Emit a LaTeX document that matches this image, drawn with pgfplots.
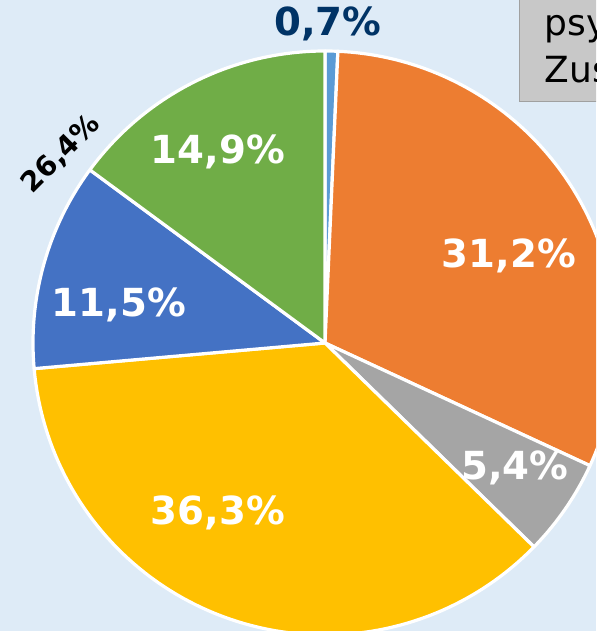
\documentclass[border=0pt]{standalone}
\usepackage{fontspec}
\setmainfont{DejaVu Sans}
\usepackage{pgfplots}
\pgfplotsset{compat=1.18}
\definecolor{bgblue}{HTML}{DEEBF7}
\definecolor{sLight}{HTML}{5B9BD5}
\definecolor{sOrange}{HTML}{ED7D31}
\definecolor{sGray}{HTML}{A5A5A5}
\definecolor{sYellow}{HTML}{FFC000}
\definecolor{sBlue}{HTML}{4472C4}
\definecolor{sGreen}{HTML}{70AD47}
\definecolor{navy}{HTML}{003366}
\definecolor{boxgray}{HTML}{C8C8C8}
\definecolor{boxedge}{HTML}{A0A0A0}
\tikzset{lbl/.style={font=\bfseries\fontsize{29}{33}\selectfont, text=white}}

\begin{document}
\begin{tikzpicture}
% shares in percent, clockwise from 12 o'clock
\pgfmathsetmacro\aA{90}
\pgfmathsetmacro\aB{\aA-3.6*0.7}
\pgfmathsetmacro\aC{\aB-3.6*31.2}
\pgfmathsetmacro\aD{\aC-3.6*5.4}
\pgfmathsetmacro\aE{\aD-3.6*36.3}
\pgfmathsetmacro\aF{\aE-3.6*11.5}
\pgfmathsetmacro\aG{\aF-3.6*14.9}
\begin{axis}[
  width=447pt, height=473.25pt, scale only axis,
  xmin=0, xmax=596, ymin=0, ymax=631,
  axis lines=none, xtick=\empty, ytick=\empty,
  axis background/.style={fill=bgblue},
  clip=true,
  every axis plot/.append style={draw=white, line width=2.4pt,
    line join=round, samples=90, variable=\t}
]
\addplot[fill=sLight, domain=\aB:\aA] ({325+292*cos(\t)},{288+292*sin(\t)}) -- (axis cs:325,288) -- cycle;
\addplot[fill=sOrange, domain=\aC:\aB] ({325+292*cos(\t)},{288+292*sin(\t)}) -- (axis cs:325,288) -- cycle;
\addplot[fill=sGray, domain=\aD:\aC] ({325+292*cos(\t)},{288+292*sin(\t)}) -- (axis cs:325,288) -- cycle;
\addplot[fill=sYellow, domain=\aE:\aD] ({325+292*cos(\t)},{288+292*sin(\t)}) -- (axis cs:325,288) -- cycle;
\addplot[fill=sBlue, domain=\aF:\aE] ({325+292*cos(\t)},{288+292*sin(\t)}) -- (axis cs:325,288) -- cycle;
\addplot[fill=sGreen, domain=\aG:\aF] ({325+292*cos(\t)},{288+292*sin(\t)}) -- (axis cs:325,288) -- cycle;

\node[lbl, text=navy] at (axis cs:328,607) {0,7\%};
\node[lbl] at (axis cs:509,375) {31,2\%};
\node[lbl] at (axis cs:515,163) {5,4\%};
\node[lbl] at (axis cs:218,118) {36,3\%};
\node[lbl] at (axis cs:119,326) {11,5\%};
\node[lbl] at (axis cs:218,479) {14,9\%};
\node[font=\bfseries\fontsize{21}{24}\selectfont, rotate=45] at (axis cs:61,477) {26,4\%};

\draw[draw=boxedge, fill=boxgray, line width=0.75pt] (axis cs:519.5,529.5) rectangle (axis cs:700,700);
\node[anchor=base west, font=\fontsize{27}{30}\selectfont] at (axis cs:540,595) {psy};
\node[anchor=base west, font=\fontsize{27}{30}\selectfont] at (axis cs:540,548) {Zus};
\end{axis}
\pgfresetboundingbox
\useasboundingbox (current axis.south west) rectangle (current axis.north east);
\end{tikzpicture}
\end{document}
